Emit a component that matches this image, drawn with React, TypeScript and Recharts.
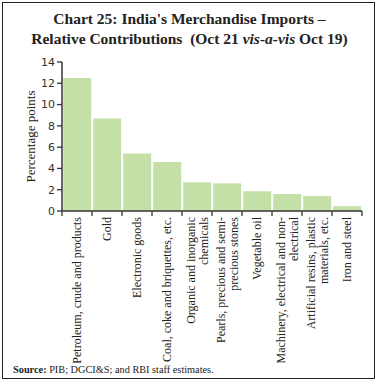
import React from 'react';
import { BarChart, Bar, XAxis, YAxis } from 'recharts';

const categories: string[][] = [
  ['Petroleum, crude and products'],
  ['Gold'],
  ['Electronic goods'],
  ['Coal, coke and briquettes, etc.'],
  ['Organic and inorganic', 'chemicals'],
  ['Pearls, precious and semi-', 'precious stones'],
  ['Vegetable oil'],
  ['Machinery, electrical and non-', 'electrical'],
  ['Artificial resins, plastic', 'materials, etc.'],
  ['Iron and steel'],
];
const values: number[] = [12.5, 8.7, 5.4, 4.6, 2.7, 2.6, 1.85, 1.6, 1.4, 0.45];
const yTicks: number[] = [0, 2, 4, 6, 8, 10, 12, 14];

const data = categories.map((lines, i) => ({ name: lines.join(' '), lines, value: values[i] }));

const SERIF = '"Liberation Serif", "Times New Roman", serif';
const SANS = '"DejaVu Sans", Verdana, sans-serif';

const CHART_W = 379;
const CHART_H = 383;
const MARGIN = { top: 62, right: 17, bottom: 32, left: 0 };
const Y_W = 62;
const PLOT_W = CHART_W - MARGIN.left - MARGIN.right - Y_W;

const XTick = (props: any) => {
  const { x, y, payload, index } = props;
  const half = payload && typeof payload.offset === 'number' && payload.offset > 0 ? payload.offset : PLOT_W / categories.length / 2;
  const lines: string[] = categories[index] || [String(payload.value)];
  const L = 13;
  const base = 4 - ((lines.length - 1) * L) / 2;
  return (
    <g>
      <line x1={x - half} x2={x - half} y1={y} y2={y + 5} stroke="#333" strokeWidth={1.3} />
      {index === categories.length - 1 && (
        <line x1={x + half} x2={x + half} y1={y} y2={y + 5} stroke="#333" strokeWidth={1.3} />
      )}
      <g transform={`translate(${x},${y + 5})`}>
        {lines.map((ln, i) => (
          <text
            key={i}
            transform="rotate(-90)"
            x={-1}
            y={base + i * L}
            textAnchor="end"
            fontFamily={SERIF}
            fontSize={12}
            fill="#222"
          >
            {ln}
          </text>
        ))}
      </g>
    </g>
  );
};

export default function App() {
  return (
    <div style={{ position: 'absolute', left: 0, top: 0, width: CHART_W, height: CHART_H, background: '#fff' }}>
      <div
        style={{
          position: 'absolute',
          left: 2,
          top: 2,
          width: 371,
          height: 375,
          border: '1.3px solid #222',
        }}
      />
      <div
        style={{
          position: 'absolute',
          left: 0,
          top: 9,
          width: 379,
          textAlign: 'center',
          fontFamily: SERIF,
          fontWeight: 'bold',
          fontSize: 15.5,
          lineHeight: '20px',
          color: '#222',
        }}
      >
        <div>Chart 25: India's Merchandise Imports –</div>
        <div>
          Relative Contributions&nbsp;&nbsp;(Oct 21 <i>vis-a-vis</i> Oct 19)
        </div>
      </div>
      <div style={{ position: 'absolute', left: 0, top: 0 }}>
        <BarChart width={CHART_W} height={CHART_H} data={data} margin={MARGIN} barCategoryGap="4%">
          <XAxis
            dataKey="name"
            interval={0}
            height={140}
            tickSize={0}
            tickMargin={0}
            tickLine={false}
            axisLine={{ stroke: '#333', strokeWidth: 1.5 }}
            tick={<XTick />}
          />
          <YAxis
            width={Y_W}
            domain={[0, 14]}
            ticks={yTicks}
            interval={0}
            tickSize={5}
            tickMargin={2}
            axisLine={{ stroke: '#333', strokeWidth: 1.5 }}
            tickLine={{ stroke: '#333', strokeWidth: 1.3 }}
            tick={{ fontFamily: SANS, fontSize: 11, fill: '#333' }}
            label={{
              value: 'Percentage points',
              angle: -90,
              position: 'insideLeft',
              offset: 30,
              style: { fontFamily: SERIF, fontSize: 13, fill: '#222', textAnchor: 'middle' },
            }}
          />
          <Bar dataKey="value" fill="#c5e0a6" isAnimationActive={false} />
        </BarChart>
      </div>
      <div
        style={{
          position: 'absolute',
          left: 13,
          top: 364,
          fontFamily: SERIF,
          fontSize: 10.3,
          color: '#222',
          whiteSpace: 'nowrap',
        }}
      >
        <b>Source:</b> PIB; DGCI&amp;S; and RBI staff estimates.
      </div>
    </div>
  );
}
